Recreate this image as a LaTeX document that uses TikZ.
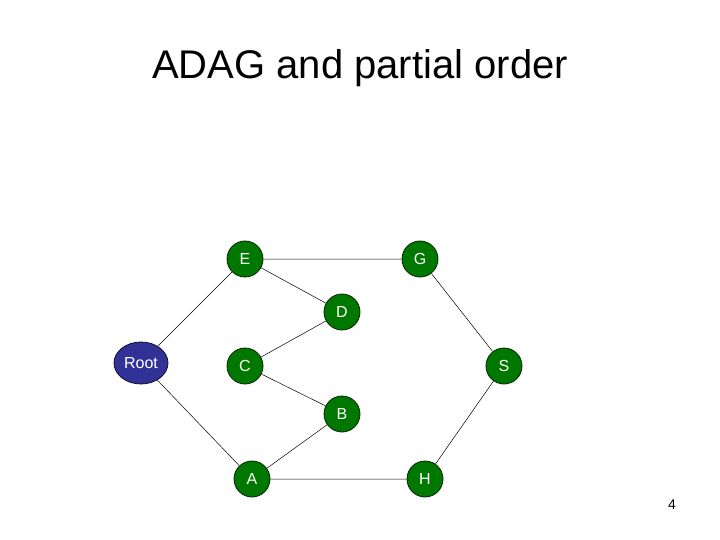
\documentclass[tikz,border=0pt]{standalone}
\usepackage{fontspec}
\setmainfont{Liberation Sans}
\usetikzlibrary{shapes.geometric}
\definecolor{ng}{RGB}{0,120,0}
\definecolor{nb}{RGB}{50,50,150}
\begin{document}
\begin{tikzpicture}[x=1pt,y=-1pt,
  n/.style={circle,fill=ng,draw=black!70!ng,line width=0.8pt,minimum size=36pt,inner sep=0pt,text=white,font=\fontsize{16}{18}\selectfont},
  r/.style={ellipse,fill=nb,draw=black!70!nb,line width=0.8pt,minimum width=54pt,minimum height=42pt,inner sep=0pt,text=white,font=\fontsize{16}{18}\selectfont},
  e/.style={draw=black,line width=0.5pt}]
\useasboundingbox (0,0) rectangle (720,540);
\node at (360,68) {\fontsize{40}{46}\selectfont ADAG and partial order};
\node (E) [n] at (245,259) {E};
\node (G) [n] at (420,259) {G};
\node (D) [n] at (342,312) {D};
\node (R) [r] at (141,363) {Root};
\node (C) [n] at (245,366) {C};
\node (S) [n] at (504,366) {S};
\node (B) [n] at (342,414) {B};
\node (A) [n] at (252,479) {A};
\node (H) [n] at (425,479) {H};
\draw[e] (R)--(E) (R)--(A) (E)--(G) (E)--(D) (D)--(C) (C)--(B) (B)--(A) (A)--(H) (G)--(S) (S)--(H);
\node at (672,505) {\fontsize{14}{16}\selectfont 4};
\end{tikzpicture}
\end{document}
